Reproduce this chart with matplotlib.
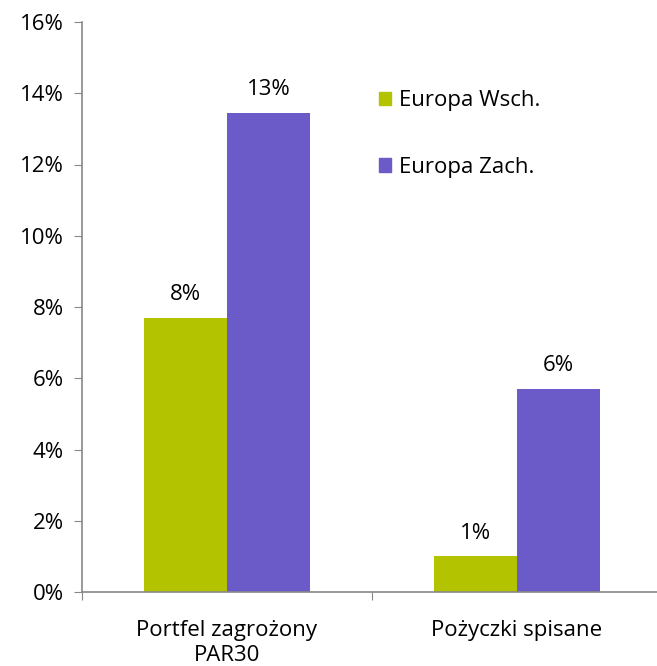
import matplotlib
matplotlib.use("Agg")
import matplotlib.pyplot as plt
import numpy as np
from matplotlib.patches import Patch

categories = ["Portfel zagrożony\nPAR30", "Pożyczki spisane"]
series_names = ["Europa Wsch.", "Europa Zach."]
wsch = [7.7, 1.0]
zach = [13.45, 5.7]
labels_wsch = ["8%", "1%"]
labels_zach = ["13%", "6%"]
yticks = [0, 2, 4, 6, 8, 10, 12, 14, 16]
colors = ["#B4C300", "#6A5BC8"]

plt.rcParams['font.family'] = ['Open Sans', 'DejaVu Sans']
FS = 16
W, H = 657, 666
fig = plt.figure(figsize=(W/100, H/100), dpi=100)
ax = fig.add_axes([82/W, (H-592)/H, 580/W, 570/H])

x = np.arange(len(categories))
bw = 0.286
b1 = ax.bar(x - bw/2, wsch, bw, color=colors[0], label=series_names[0])
b2 = ax.bar(x + bw/2, zach, bw, color=colors[1], label=series_names[1])
for bars, labs in ((b1, labels_wsch), (b2, labels_zach)):
    for r, l in zip(bars, labs):
        ax.annotate(l, (r.get_x() + r.get_width()/2, r.get_height()),
                    xytext=(0, 9), textcoords="offset points",
                    ha="center", va="bottom", fontsize=FS)

ax.set_xlim(-0.5, 1.5)
ax.set_ylim(0, 16)
ax.set_yticks(yticks)
ax.set_yticklabels([f"{t}%" for t in yticks], fontsize=FS)
ax.set_xticks([-0.5, 0.5, 1.5], minor=False)
ax.set_xticklabels([])
ax.set_xticks(x, minor=True)
ax.set_xticklabels(categories, minor=True, fontsize=FS, linespacing=1.25)
ax.tick_params(axis="x", which="minor", length=0, pad=20)
ax.tick_params(axis="x", which="major", length=6, color="#888888", direction="out")
ax.tick_params(axis="y", length=6, color="#888888", direction="out", pad=7)
for s in ["top", "right"]:
    ax.spines[s].set_visible(False)
for s in ["left", "bottom"]:
    ax.spines[s].set_color("#888888")
    ax.spines[s].set_linewidth(1.2)

handles = [Patch(color=c) for c in colors]
ax.legend(handles, series_names, loc="upper left", bbox_to_anchor=(0.478, 0.915),
          frameon=False, fontsize=FS, handlelength=0.55, handleheight=0.55,
          handletextpad=0.35, labelspacing=2.05)

fig.savefig("out.png", dpi=100)
